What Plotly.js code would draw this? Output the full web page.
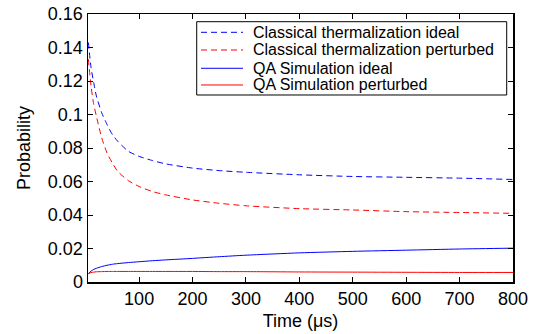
<!DOCTYPE html>
<html>
<head>
<meta charset="utf-8">
<script src="https://cdn.plot.ly/plotly-3.0.1.min.js"></script>
<style>html,body{margin:0;padding:0;background:#fff;}#chart{width:533px;height:334px;}</style>
</head>
<body>
<div id="chart"></div>
<script>
const time = [5, 10, 15, 20, 30, 40, 50, 60, 80, 100, 125, 150, 200, 250, 300, 400, 500, 600, 700, 800];
const classicalIdeal = [0.143, 0.128, 0.119, 0.111, 0.101, 0.094, 0.088, 0.084, 0.078, 0.075, 0.0725, 0.0705, 0.068, 0.0665, 0.0655, 0.064, 0.063, 0.0625, 0.062, 0.0612];
const classicalPerturbed = [0.133, 0.117, 0.106, 0.099, 0.086, 0.077, 0.071, 0.066, 0.0605, 0.057, 0.054, 0.052, 0.049, 0.047, 0.0455, 0.0438, 0.043, 0.042, 0.0415, 0.041];
const qaIdeal = [0.005, 0.0065, 0.0075, 0.0082, 0.0092, 0.0100, 0.0106, 0.011, 0.0116, 0.0121, 0.0127, 0.0132, 0.0141, 0.0151, 0.016, 0.0174, 0.0183, 0.019, 0.0197, 0.0202];
const qaPerturbed = [0.005, 0.0056, 0.0059, 0.0061, 0.0062, 0.0063, 0.0063, 0.0063, 0.0063, 0.0063, 0.0063, 0.0063, 0.0063, 0.0062, 0.0062, 0.0060, 0.0059, 0.0058, 0.0057, 0.0057];
const seriesNames = ["Classical thermalization ideal", "Classical thermalization perturbed", "QA Simulation ideal", "QA Simulation perturbed"];
const xTicks = [100, 200, 300, 400, 500, 600, 700, 800];
const yTicks = [0, 0.02, 0.04, 0.06, 0.08, 0.1, 0.12, 0.14, 0.16];
const yTickLabels = ["0", "0.02", "0.04", "0.06", "0.08", "0.1", "0.12", "0.14", "0.16"];

const font = "Liberation Sans, Arial, Helvetica, sans-serif";
const styles = [
  {color: "#0000ff", dash: "6px,4px"},
  {color: "#ff0000", dash: "6px,4px"},
  {color: "#0000ff", dash: "solid"},
  {color: "#ff0000", dash: "solid"}
];
const ys = [classicalIdeal, classicalPerturbed, qaIdeal, qaPerturbed];

const traces = ys.map((y, i) => ({
  x: time, y: y, name: seriesNames[i], mode: "lines", showlegend: false,
  line: {color: styles[i].color, width: 1, dash: styles[i].dash, shape: "spline", smoothing: 0.6}
}));

// MATLAB-style legend box (drawn in paper coordinates)
const legBox = {x0: 0.2558, x1: 0.9852, y0: 0.6978, y1: 0.9713};
const legRows = [0.9317, 0.8657, 0.7974, 0.7351];
const shapes = [{
  type: "rect", xref: "paper", yref: "paper",
  x0: legBox.x0, x1: legBox.x1, y0: legBox.y0, y1: legBox.y1,
  line: {color: "#000", width: 1}, fillcolor: "#fff", layer: "above"
}];
const annotations = [];
legRows.forEach((ry, i) => {
  shapes.push({
    type: "line", xref: "paper", yref: "paper",
    x0: 0.2659, x1: 0.3647, y0: ry, y1: ry,
    line: {color: styles[i].color, width: 1, dash: styles[i].dash}, layer: "above"
  });
  annotations.push({
    xref: "paper", yref: "paper", x: 0.3828, y: ry, xanchor: "left", yanchor: "middle",
    text: seriesNames[i], showarrow: false,
    font: {family: font, size: 16, color: "#000"}
  });
});

const axisCommon = {
  showline: true, linecolor: "#000", linewidth: 1.5, mirror: "ticks",
  ticks: "inside", ticklen: 5, tickwidth: 1, tickcolor: "#000",
  showgrid: false, zeroline: false,
  tickfont: {family: font, size: 18, color: "#000"}
};

const layout = {
  width: 533, height: 334,
  margin: {l: 88, r: 20, t: 14, b: 52},
  paper_bgcolor: "#fff", plot_bgcolor: "#fff",
  showlegend: false,
  shapes: shapes,
  annotations: annotations,
  xaxis: Object.assign({}, axisCommon, {
    range: [4.3, 800], tickvals: xTicks,
    title: {text: "Time (μs)", font: {family: font, size: 18, color: "#000"}, standoff: 6}
  }),
  yaxis: Object.assign({}, axisCommon, {
    range: [0, 0.16], tickvals: yTicks, ticktext: yTickLabels,
    title: {text: "Probability", font: {family: font, size: 18, color: "#000"}, standoff: 12}
  })
};

Plotly.newPlot("chart", traces, layout, {staticPlot: true, displayModeBar: false});
</script>
</body>
</html>
